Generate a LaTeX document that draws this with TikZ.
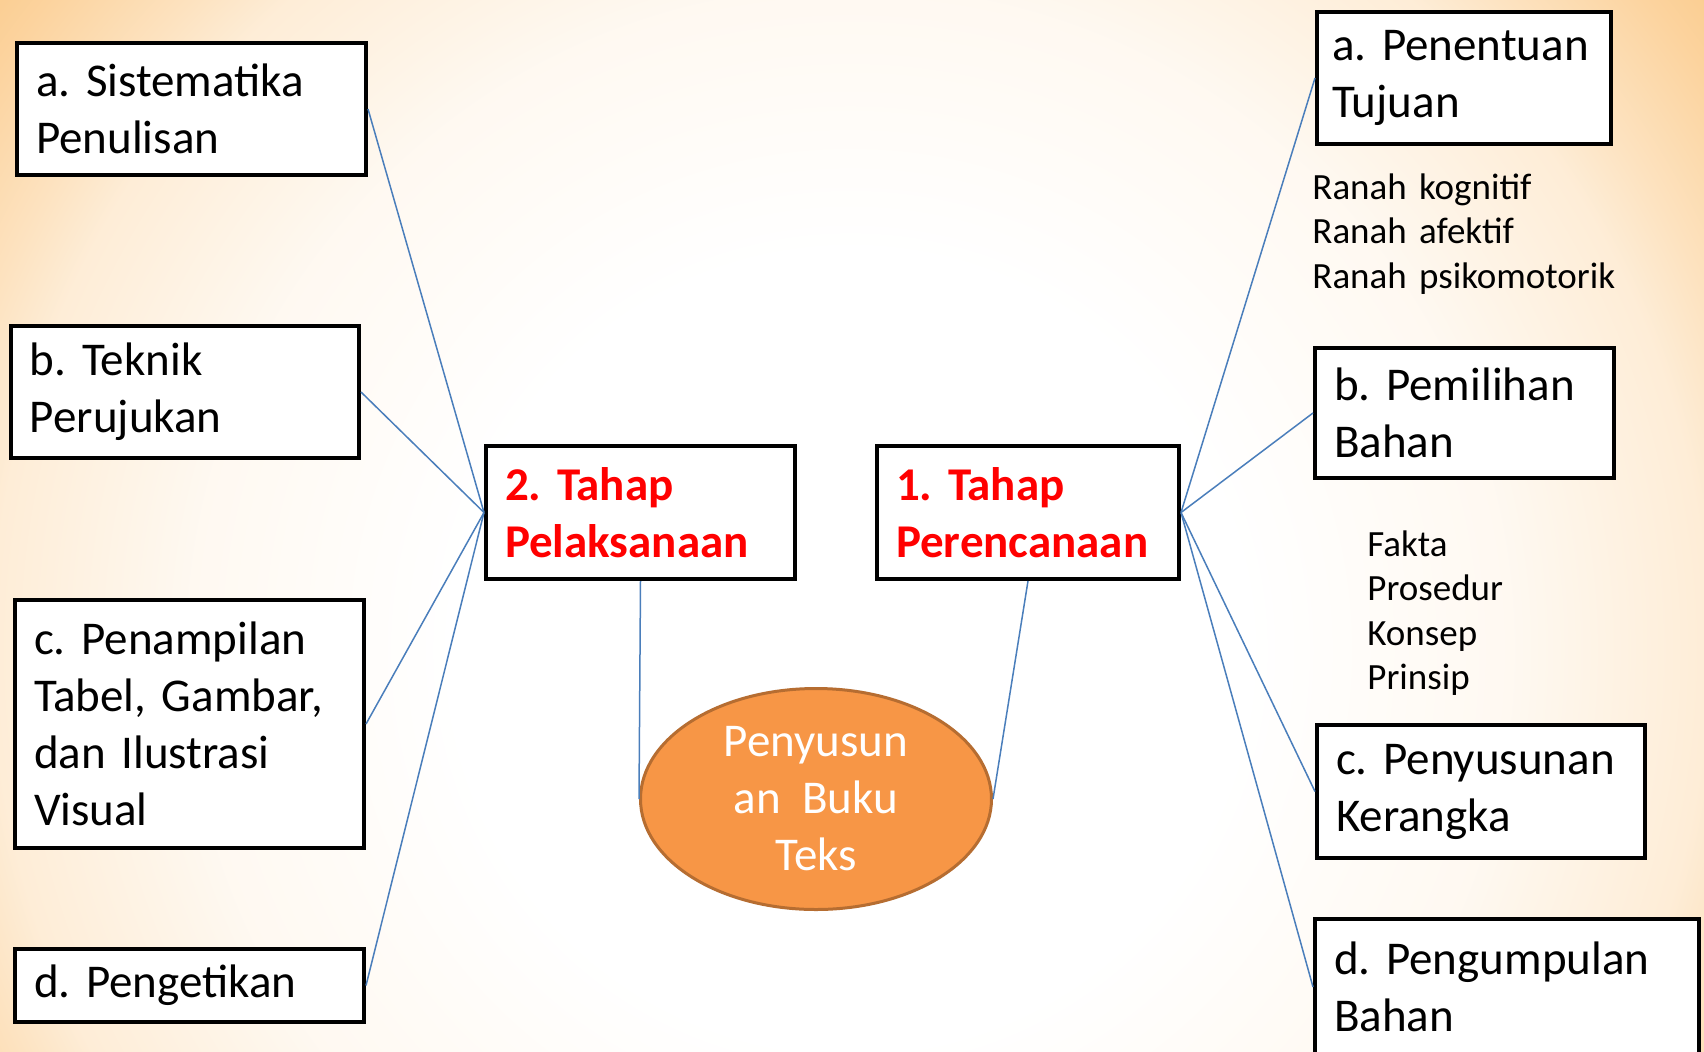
\documentclass[tikz,border=0pt]{standalone}
\usepackage{fontspec}
\setmainfont{Carlito}
\frenchspacing
\hyphenpenalty=10000
\usetikzlibrary{shapes}
\definecolor{slideorange}{HTML}{FBCB8C}
\definecolor{linkblue}{HTML}{4A7EBB}
\definecolor{coreorange}{HTML}{F79646}
\definecolor{coreedge}{HTML}{B66D31}
\newcommand\cardfont{\fontsize{23.5}{28.5}\selectfont}
\newcommand\notefont{\fontsize{18.5}{22.25}\selectfont}
\pgfdeclareradialshading{slideglow}{\pgfpoint{0bp}{0bp}}{%
  color(0bp)=(white); color(9bp)=(white); color(15bp)=(slideorange!12!white);
  color(19.5bp)=(slideorange!35!white); color(21bp)=(slideorange!55!white);
  color(23.5bp)=(slideorange!85!white); color(25bp)=(slideorange);
  color(50bp)=(slideorange)}
\tikzset{%
  card/.style={rectangle,draw,line width=2pt,fill=white,
    inner xsep=9.5pt,inner ysep=0pt,font=\cardfont},
  stage/.style={card,text=red,font=\cardfont\bfseries},
  core/.style={ellipse,draw=coreedge,line width=1.5pt,fill=coreorange,
    text=white,align=center,inner sep=0pt,font=\cardfont},
  notes/.style={text width=170pt,inner sep=0pt,anchor=base west,font=\notefont},
  link/.style={draw=linkblue,line width=0.75pt}
}
\begin{document}
\begin{tikzpicture}[x=0.5pt,y=-0.5pt]
  \useasboundingbox (0,0) rectangle (1704,1051);
  % slide background
  \begin{scope}
    \clip (0,0) rectangle (1704,1051);
    \shade [shading=slideglow] (850,650) circle [radius=550pt];
  \end{scope}

  \node [core,minimum width=175.5pt,minimum height=110.5pt] (core) at (816,799) {Penyusun\\an~~Buku\\Teks};
  \node [stage,text width=135.5pt,minimum height=66.5pt] (exec) at (640.5,512.5) {2. Tahap\\Pelaksanaan};
  \node [stage,text width=132pt,minimum height=66.5pt] (plan) at (1028,512.5) {1. Tahap\\Perencanaan};

  % parts of stage 2
  \node [card,text width=155.5pt,minimum height=66pt] (syst) at (191.5,109) {a. Sistematika\\Penulisan};
  \node [card,text width=155pt,minimum height=66pt] (cite) at (185,392) {b. Teknik\\Perujukan};
  \node [card,text width=155.5pt,minimum height=124pt] (visual) at (189.5,724) {c. Penampilan\\Tabel, Gambar,\\dan Ilustrasi\\Visual};
  \node [card,text width=155.5pt,minimum height=36.5pt] (typing) at (189.5,985.5) {d. Pengetikan};

  % parts of stage 1
  \node [card,text width=132pt,inner xsep=7.5pt,minimum height=66pt] (goal) at (1464,78) {a. Penentuan\\Tujuan};
  \node [notes] (domains) at (1312,199) {Ranah kognitif\\Ranah afektif\\Ranah psikomotorik};
  \node [card,text width=130.5pt,minimum height=65pt] (pick) at (1464.5,413) {b. Pemilihan\\Bahan};
  \node [notes] (kinds) at (1367,556) {Fakta\\Prosedur\\Konsep\\Prinsip};
  \node [card,text width=145pt,minimum height=66.5pt] (frame) at (1481,791.5) {c. Penyusunan\\Kerangka};
  \node [card,text width=173pt,minimum height=68pt] (gather) at (1507,987) {d. Pengumpulan\\Bahan};

  \path (exec.west) edge [link] (syst.east) edge [link] (cite.east)
    edge [link] (visual.east) edge [link] (typing.east);
  \path (plan.east) edge [link] (goal.west) edge [link] (pick.west)
    edge [link] (frame.west) edge [link] (gather.west);
  \path (exec.south) edge [link] (core.west);
  \path (plan.south) edge [link] (core.east);
\end{tikzpicture}
\end{document}
